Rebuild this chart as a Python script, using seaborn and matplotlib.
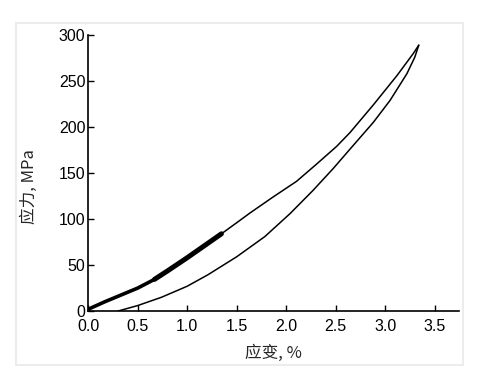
import pandas as pd
import matplotlib
matplotlib.use("Agg")
from matplotlib import pyplot as plt
from matplotlib.patches import Rectangle
import seaborn as sns

# upper branch of the loop (strain %, stress MPa)
upper_strain = [0.0, 0.165, 0.5, 0.67, 0.806, 1.0, 1.18, 1.346, 1.5, 1.633, 1.868,
                2.105, 2.31, 2.51, 2.645, 2.88, 3.12, 3.285, 3.34]
upper_stress = [2, 10, 25, 34.5, 44, 58, 71.5, 84, 96, 106.5, 124,
                141, 160, 179, 194, 224, 256, 280, 289]

# lower branch of the loop
lower_strain = [0.3, 0.5, 0.74, 1.0, 1.21, 1.5, 1.785, 2.04, 2.27, 2.476,
                2.645, 2.88, 3.05, 3.22, 3.30, 3.34]
lower_stress = [0, 6, 15, 27, 39.5, 59, 81, 106, 131, 155,
                176, 205, 229, 258, 276, 289]

x_ticks = [0.0, 0.5, 1.0, 1.5, 2.0, 2.5, 3.0, 3.5]
y_ticks = [0, 50, 100, 150, 200, 250, 300]

upper = pd.DataFrame({"strain": upper_strain, "stress": upper_stress})
lower = pd.DataFrame({"strain": lower_strain, "stress": lower_stress})
# the start of the upper branch is a dense band of noisy points in the original
band_a = upper[upper.strain <= 0.67]
band_b = upper[(upper.strain >= 0.67) & (upper.strain <= 1.346)]

sns.set_style("ticks")
plt.rcParams["font.family"] = ["Liberation Sans", "Noto Sans CJK SC", "DejaVu Sans"]
plt.rcParams["xtick.direction"] = "in"
plt.rcParams["ytick.direction"] = "in"

fig = plt.figure(figsize=(4.82, 3.73), dpi=100)
ax = fig.add_axes([0.183, 0.166, 0.770, 0.740])

sns.lineplot(data=upper, x="strain", y="stress", color="black", lw=1.1, sort=False, ax=ax)
sns.lineplot(data=band_a, x="strain", y="stress", color="black", lw=2.6, sort=False, ax=ax)
sns.lineplot(data=band_b, x="strain", y="stress", color="black", lw=3.6, sort=False, ax=ax)
sns.lineplot(data=lower, x="strain", y="stress", color="black", lw=1.1, sort=False, ax=ax)

ax.set_xlim(0, 3.75)
ax.set_ylim(0, 300)
ax.set_xticks(x_ticks)
ax.set_xticklabels([f"{v:.1f}" for v in x_ticks])
ax.set_yticks(y_ticks)
ax.tick_params(labelsize=11.5, length=4, width=1, colors="black")
ax.tick_params(axis="x", pad=6)
ax.tick_params(axis="y", pad=2)
ax.set_xlabel("应变, %", fontsize=12, family=["Noto Sans CJK SC", "DejaVu Sans"], labelpad=7)
ax.set_ylabel("应力, MPa", fontsize=12, family=["Noto Sans CJK SC", "DejaVu Sans"])
ax.yaxis.set_label_coords(-0.135, 0.45)
for side in ["top", "right"]:
    ax.spines[side].set_visible(False)
for side in ["left", "bottom"]:
    ax.spines[side].set_linewidth(1.2)
    ax.spines[side].set_color("black")

# faint frame around the picture
fig.patches.append(Rectangle((16 / 482, 8 / 373), 447 / 482, 342 / 373, transform=fig.transFigure,
                             fill=False, edgecolor="#ececec", lw=1.5, zorder=0))

fig.savefig("out.png", dpi=100)
